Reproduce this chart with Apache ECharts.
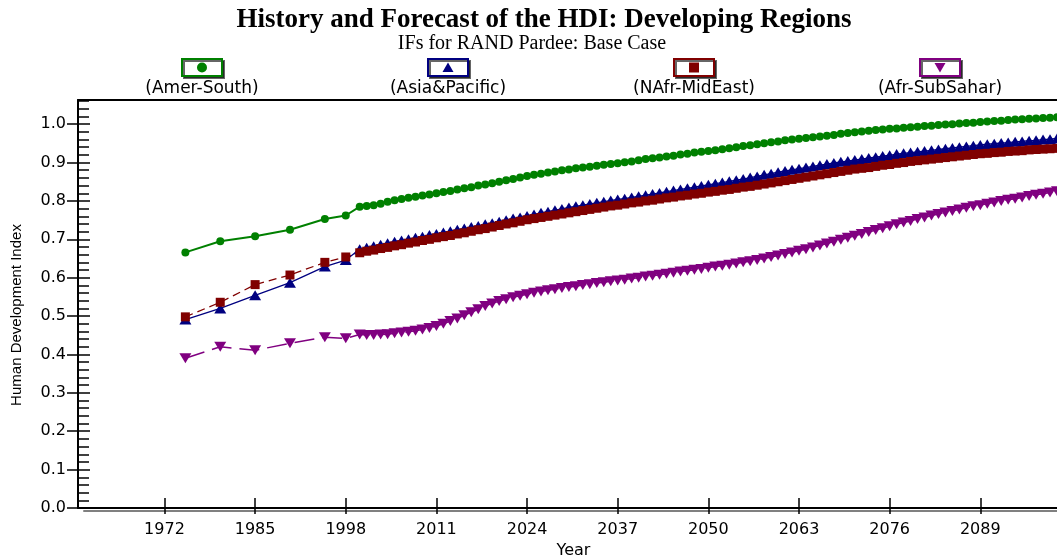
<!DOCTYPE html>
<html>
<head>
<meta charset="utf-8">
<title>History and Forecast of the HDI: Developing Regions</title>
<script src="https://cdn.jsdelivr.net/npm/echarts@6/dist/echarts.min.js"></script>
<style>
  html, body { margin: 0; padding: 0; background: #fff; }
  #chart { width: 1057px; height: 557px; }
</style>
</head>
<body>
<div id="chart"></div>
<script>
// Region names, in legend order
const regions = ['(Amer-South)', '(Asia&Pacific)', '(NAfr-MidEast)', '(Afr-SubSahar)'];

// Historical HDI observations
const histYears = [1975, 1980, 1985, 1990, 1995, 1998];
const amerHist = [0.666, 0.695, 0.708, 0.725, 0.753, 0.762];
const asiaHist = [0.491, 0.520, 0.554, 0.587, 0.629, 0.646];
const nafrHist = [0.498, 0.536, 0.582, 0.607, 0.640, 0.654];
const afrHist  = [0.390, 0.420, 0.411, 0.429, 0.445, 0.442];

// Yearly forecast, 2000-2100
const amerFcst = [
  0.785, 0.787, 0.789, 0.793, 0.798, 0.802, 0.805, 0.808, 0.811, 0.814,
  0.817, 0.820, 0.823, 0.826, 0.830, 0.833, 0.836, 0.840, 0.843, 0.846,
  0.850, 0.854, 0.857, 0.861, 0.865, 0.868, 0.871, 0.874, 0.877, 0.880,
  0.882, 0.885, 0.887, 0.889, 0.892, 0.894, 0.896, 0.898, 0.901, 0.903,
  0.906, 0.909, 0.911, 0.913, 0.916, 0.918, 0.921, 0.923, 0.926, 0.928,
  0.930, 0.932, 0.935, 0.937, 0.940, 0.943, 0.945, 0.948, 0.950, 0.953,
  0.955, 0.958, 0.960, 0.962, 0.964, 0.966, 0.968, 0.970, 0.972, 0.975,
  0.977, 0.979, 0.981, 0.983, 0.985, 0.986, 0.988, 0.989, 0.991, 0.992,
  0.993, 0.995, 0.996, 0.998, 0.999, 1.000, 1.002, 1.003, 1.004, 1.006,
  1.007, 1.008, 1.009, 1.011, 1.012, 1.013, 1.014, 1.015, 1.016, 1.017,
  1.018
];
const asiaFcst = [
  0.674, 0.678, 0.682, 0.686, 0.690, 0.694, 0.697, 0.700, 0.704, 0.707,
  0.711, 0.714, 0.718, 0.721, 0.725, 0.728, 0.732, 0.735, 0.739, 0.742,
  0.746, 0.750, 0.754, 0.757, 0.761, 0.765, 0.769, 0.772, 0.776, 0.779,
  0.783, 0.786, 0.789, 0.792, 0.795, 0.798, 0.801, 0.804, 0.806, 0.809,
  0.812, 0.815, 0.818, 0.821, 0.824, 0.827, 0.830, 0.833, 0.836, 0.839,
  0.842, 0.845, 0.848, 0.851, 0.854, 0.857, 0.861, 0.864, 0.868, 0.871,
  0.875, 0.878, 0.881, 0.884, 0.887, 0.890, 0.893, 0.896, 0.899, 0.902,
  0.904, 0.907, 0.909, 0.912, 0.914, 0.917, 0.919, 0.922, 0.924, 0.926,
  0.928, 0.930, 0.932, 0.934, 0.936, 0.938, 0.940, 0.942, 0.944, 0.946,
  0.948, 0.949, 0.951, 0.952, 0.954, 0.955, 0.957, 0.958, 0.960, 0.961,
  0.963
];
const nafrFcst = [
  0.665, 0.669, 0.672, 0.676, 0.679, 0.683, 0.686, 0.690, 0.693, 0.697,
  0.700, 0.704, 0.707, 0.710, 0.714, 0.717, 0.721, 0.725, 0.728, 0.732,
  0.736, 0.740, 0.743, 0.747, 0.751, 0.754, 0.757, 0.760, 0.763, 0.766,
  0.769, 0.772, 0.775, 0.778, 0.781, 0.784, 0.787, 0.789, 0.792, 0.795,
  0.797, 0.800, 0.802, 0.805, 0.808, 0.810, 0.813, 0.815, 0.818, 0.820,
  0.823, 0.825, 0.828, 0.830, 0.833, 0.836, 0.838, 0.841, 0.844, 0.847,
  0.850, 0.853, 0.856, 0.859, 0.862, 0.865, 0.868, 0.871, 0.874, 0.877,
  0.880, 0.883, 0.885, 0.887, 0.890, 0.893, 0.895, 0.898, 0.900, 0.903,
  0.905, 0.907, 0.909, 0.911, 0.913, 0.915, 0.917, 0.919, 0.921, 0.923,
  0.924, 0.926, 0.927, 0.929, 0.930, 0.931, 0.933, 0.934, 0.935, 0.936,
  0.937
];
const afrFcst = [
  0.452, 0.451, 0.451, 0.452, 0.453, 0.455, 0.457, 0.459, 0.462, 0.465,
  0.469, 0.474, 0.480, 0.487, 0.494, 0.502, 0.510, 0.518, 0.526, 0.533,
  0.539, 0.544, 0.549, 0.553, 0.557, 0.561, 0.564, 0.567, 0.570, 0.573,
  0.576, 0.578, 0.581, 0.583, 0.586, 0.588, 0.591, 0.593, 0.595, 0.598,
  0.600, 0.603, 0.605, 0.608, 0.610, 0.613, 0.616, 0.618, 0.621, 0.623,
  0.626, 0.629, 0.631, 0.634, 0.637, 0.640, 0.643, 0.646, 0.650, 0.654,
  0.658, 0.662, 0.666, 0.670, 0.674, 0.679, 0.684, 0.689, 0.694, 0.699,
  0.704, 0.709, 0.714, 0.719, 0.724, 0.729, 0.734, 0.739, 0.744, 0.748,
  0.753, 0.757, 0.762, 0.766, 0.770, 0.774, 0.778, 0.782, 0.786, 0.789,
  0.793, 0.796, 0.800, 0.803, 0.806, 0.809, 0.813, 0.816, 0.819, 0.822,
  0.825
];

// Axis tick labels
const yearTicks = [1972, 1985, 1998, 2011, 2024, 2037, 2050, 2063, 2076, 2089];
const hdiTicks = [0.0, 0.1, 0.2, 0.3, 0.4, 0.5, 0.6, 0.7, 0.8, 0.9, 1.0];

const fcstYears = [];
for (let y = 2000; y <= 2100; y++) fcstYears.push(y);

function toPairs(hist, fcst) {
  return histYears.map((y, i) => [y, hist[i]])
    .concat(fcstYears.map((y, i) => [y, fcst[i]]));
}

const colors = ['#008000', '#000080', '#800000', '#800080'];
const X_MIN = 1959.6, X_MAX = 2100, Y_MAX = 1.063;
const sansWide = 'DejaVu Sans';

const chart = echarts.init(document.getElementById('chart'), null, { renderer: 'canvas' });

// Legend: framed swatch above each region name
const legendCenters = [202, 448, 694, 940];
const legendMarks = [
  { type: 'circle', shape: { cx: 0, cy: 0, r: 5 } },
  { type: 'polygon', shape: { points: [[0, -5], [5.5, 4.5], [-5.5, 4.5]] } },
  { type: 'rect', shape: { x: -5, y: -5, width: 10, height: 10 } },
  { type: 'polygon', shape: { points: [[0, 5], [5.5, -4.5], [-5.5, -4.5]] } }
];
const legendGraphics = [];
regions.forEach((name, i) => {
  const cx = legendCenters[i];
  legendGraphics.push({
    type: 'rect',
    shape: { x: cx - 20, y: 59, width: 40, height: 17 },
    style: { fill: '#fff', stroke: colors[i], lineWidth: 2,
             shadowColor: 'rgba(0,0,0,0.6)', shadowOffsetX: 2, shadowOffsetY: 2, shadowBlur: 0 }
  });
  legendGraphics.push(Object.assign({}, legendMarks[i], {
    x: cx, y: 67.5, style: { fill: colors[i] }
  }));
  legendGraphics.push({
    type: 'text', x: cx, y: 89,
    style: { text: name, textAlign: 'center', textVerticalAlign: 'middle',
             font: '17px "' + sansWide + '"', fill: '#000' }
  });
});

const option = {
  animation: false,
  backgroundColor: '#fff',
  grid: { left: 78, right: 0, top: 100, bottom: 49, containLabel: false, outerBoundsMode: 'none' },
  graphic: [
    { type: 'text', x: 544, y: 20,
      style: { text: 'History and Forecast of the HDI: Developing Regions',
               textAlign: 'center', textVerticalAlign: 'middle',
               font: 'bold 27px "Liberation Serif"', fill: '#000' } },
    { type: 'text', x: 532, y: 44,
      style: { text: 'IFs for RAND Pardee: Base Case',
               textAlign: 'center', textVerticalAlign: 'middle',
               font: '20px "Liberation Serif"', fill: '#000' } }
  ].concat(legendGraphics),
  xAxis: [
    {
      type: 'value', min: X_MIN, max: X_MAX, position: 'bottom',
      axisLine: { show: true, onZero: false,
        lineStyle: { color: '#000', width: 2, shadowColor: '#808080', shadowOffsetX: 6, shadowOffsetY: 3, shadowBlur: 0 } },
      axisTick: { show: true, inside: true, length: 10, customValues: yearTicks,
        lineStyle: { color: '#000', width: 1.5 } },
      axisLabel: { customValues: yearTicks, margin: 14, color: '#000',
        fontFamily: sansWide, fontSize: 16, formatter: v => String(v) },
      splitLine: { show: false },
      name: 'Year', nameLocation: 'middle', nameGap: 32,
      nameTextStyle: { color: '#000', fontFamily: sansWide, fontSize: 16, padding: [0, 0, 0, 12] }
    },
    {
      type: 'value', min: X_MIN, max: X_MAX, position: 'bottom',
      axisLine: { show: false },
      axisTick: { show: true, inside: false, length: 6, customValues: yearTicks,
        lineStyle: { color: '#000', width: 1.5 } },
      axisLabel: { show: false },
      splitLine: { show: false }
    },
    {
      type: 'value', min: X_MIN, max: X_MAX, position: 'top',
      axisLine: { show: true, onZero: false, lineStyle: { color: '#000', width: 2 } },
      axisTick: { show: false }, axisLabel: { show: false }, splitLine: { show: false }
    }
  ],
  yAxis: [
    {
      type: 'value', min: 0, max: Y_MAX, position: 'left',
      axisLine: { show: true, onZero: false, lineStyle: { color: '#000', width: 2 } },
      axisTick: { show: true, inside: true, length: 12, customValues: hdiTicks,
        lineStyle: { color: '#000', width: 1.5 } },
      axisLabel: { customValues: hdiTicks, margin: 12, color: '#000',
        fontFamily: sansWide, fontSize: 16, formatter: v => v.toFixed(1) },
      splitLine: { show: false },
      name: 'Human Development Index', nameLocation: 'middle', nameGap: 54, nameRotate: 90,
      nameTextStyle: { color: '#000', fontFamily: 'Liberation Sans', fontSize: 15, padding: [0, 22, 0, 0] }
    },
    {
      type: 'value', min: 0, max: Y_MAX, position: 'left',
      axisLine: { show: false },
      axisTick: { show: true, inside: false, length: 11, customValues: hdiTicks,
        lineStyle: { color: '#000', width: 1.5 } },
      axisLabel: { show: false }, splitLine: { show: false }
    },
    {
      type: 'value', min: 0, max: Y_MAX, interval: 0.02, position: 'left',
      axisLine: { show: false },
      axisTick: { show: true, inside: true, length: 11, lineStyle: { color: '#000', width: 1.5 } },
      axisLabel: { show: false }, splitLine: { show: false }
    }
  ],
  series: [
    {
      name: regions[0], type: 'line', data: toPairs(amerHist, amerFcst),
      showAllSymbol: true, symbol: 'circle', symbolSize: 8,
      itemStyle: { color: colors[0] },
      lineStyle: { color: colors[0], width: 2 }
    },
    {
      name: regions[1], type: 'line', data: toPairs(asiaHist, asiaFcst),
      showAllSymbol: true, symbol: 'triangle', symbolSize: [12, 10],
      itemStyle: { color: colors[1] },
      lineStyle: { color: colors[1], width: 1.3 }
    },
    {
      name: regions[2], type: 'line', data: toPairs(nafrHist, nafrFcst),
      showAllSymbol: true, symbol: 'rect', symbolSize: 9,
      itemStyle: { color: colors[2] },
      lineStyle: { color: colors[2], width: 1.3, type: [8, 5] }
    },
    {
      name: regions[3], type: 'line', data: toPairs(afrHist, afrFcst),
      showAllSymbol: true, symbol: 'triangle', symbolRotate: 180, symbolSize: [12, 10],
      itemStyle: { color: colors[3] },
      lineStyle: { color: colors[3], width: 1.5, type: [20, 8] }
    }
  ]
};

chart.setOption(option);
</script>
</body>
</html>
